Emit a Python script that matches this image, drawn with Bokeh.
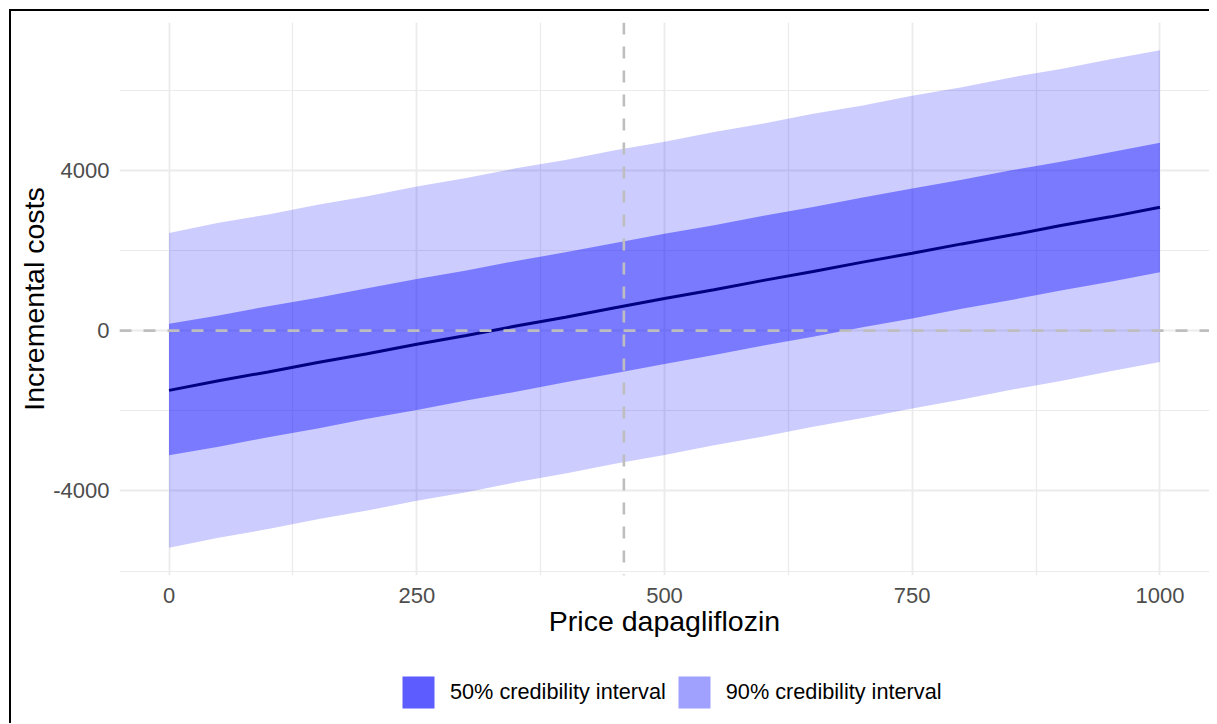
from bokeh.plotting import figure
from bokeh.layouts import column
from bokeh.models import Range1d, FixedTicker, Span, Legend, LegendItem
from bokeh.embed import file_html
from bokeh.resources import INLINE

# ---- data ----
price = [0, 50, 100, 150, 200, 250, 300, 350, 400, 450, 500,
         550, 600, 650, 700, 750, 800, 850, 900, 950, 1000]
median = [-1490, -1250, -1030, -795, -575, -340, -120, 115, 335, 570, 800,
          1020, 1255, 1475, 1710, 1930, 2165, 2385, 2625, 2840, 3080]
hi50 = [170, 380, 610, 820, 1060, 1290, 1500, 1740, 1955, 2190, 2420,
        2630, 2870, 3085, 3320, 3550, 3765, 4000, 4215, 4450, 4690]
lo50 = [-3110, -2895, -2660, -2440, -2200, -1980, -1745, -1525, -1285, -1065, -830,
        -610, -370, -150, 85, 305, 545, 765, 1000, 1220, 1460]
hi90 = [2440, 2690, 2900, 3140, 3355, 3595, 3810, 4050, 4260, 4500, 4715,
        4955, 5170, 5410, 5620, 5860, 6075, 6320, 6530, 6770, 7000]
lo90 = [-5420, -5170, -4950, -4705, -4490, -4245, -4030, -3785, -3565, -3320, -3105,
        -2860, -2640, -2400, -2180, -1940, -1720, -1475, -1255, -1015, -780]
ref_price = 459
ref_cost = 0
x_ticks = [0, 250, 500, 750, 1000]
x_minor = [125, 375, 625, 875]
y_ticks = [-4000, 0, 4000]
y_minor = [-6000, -2000, 2000, 6000]
legend_labels = ["50% credibility interval", "90% credibility interval"]
legend_colors = ["#5C5CFF", "#A0A0FF"]

FONT = "Liberation Sans"

p = figure(width=1198, height=640, output_backend="svg", toolbar_location=None,
           x_range=Range1d(-50, 1050), y_range=Range1d(-6110, 7690),
           min_border_left=108, min_border_right=0, min_border_top=11,
           min_border_bottom=76)
p.outline_line_color = None
p.background_fill_color = "white"
p.border_fill_color = "white"

# bands and median
p.varea(x=price, y1=lo90, y2=hi90, fill_color="blue", fill_alpha=0.2)
p.varea(x=price, y1=lo50, y2=hi50, fill_color="blue", fill_alpha=0.4)
p.line(price, median, line_color="#000080", line_width=3)

# reference lines
p.add_layout(Span(location=ref_cost, dimension="width", line_color="#BEBEBE",
                  line_width=2.6, line_dash="12 12"))
p.add_layout(Span(location=ref_price, dimension="height", line_color="#BEBEBE",
                  line_width=2.6, line_dash="12 12"))

# axes / grids
xt = FixedTicker(ticks=x_ticks, minor_ticks=x_minor)
yt = FixedTicker(ticks=y_ticks, minor_ticks=y_minor)
p.xaxis.ticker = xt
p.yaxis.ticker = yt
p.xgrid.ticker = xt
p.ygrid.ticker = yt
for g in (p.xgrid, p.ygrid):
    g.grid_line_color = "#EBEBEB"
    g.grid_line_width = 1.8
    g.minor_grid_line_color = "#EBEBEB"
    g.minor_grid_line_width = 1.2

for ax in (p.xaxis, p.yaxis):
    ax.axis_line_color = None
    ax.major_tick_line_color = None
    ax.minor_tick_line_color = None
    ax.major_tick_out = 0
    ax.major_tick_in = 0
    ax.minor_tick_out = 0
    ax.minor_tick_in = 0
    ax.major_label_text_font = FONT
    ax.major_label_text_font_size = "22px"
    ax.major_label_text_color = "#4D4D4D"
    ax.axis_label_text_font = FONT
    ax.axis_label_text_font_size = "28.5px"
    ax.axis_label_text_font_style = "normal"
    ax.axis_label_text_color = "black"

p.xaxis.major_label_standoff = 12
p.yaxis.major_label_standoff = 10
p.xaxis.major_label_overrides = {t: str(t) for t in x_ticks}
p.yaxis.major_label_overrides = {t: str(t) for t in y_ticks}
p.xaxis.axis_label = "Price dapagliflozin"
p.xaxis.axis_label_standoff = -1
p.yaxis.axis_label = "Incremental costs"
p.yaxis.axis_label_standoff = 0

# legend strip below the chart (key colours as in the reference legend);
# the key renderers draw the interval data far outside this strip's range,
# so only their legend swatches are visible
pl = figure(width=1198, height=72, output_backend="svg", toolbar_location=None,
            x_range=Range1d(0, 1), y_range=Range1d(1e6, 1e6 + 1),
            x_axis_location=None, y_axis_location=None, min_border=0)
pl.grid.visible = False
pl.outline_line_color = None
pl.background_fill_color = "white"
pl.border_fill_color = "white"
r1 = pl.varea(x=price, y1=lo50, y2=hi50, fill_color=legend_colors[0])
r2 = pl.varea(x=price, y1=lo90, y2=hi90, fill_color=legend_colors[1])
legend = Legend(items=[LegendItem(label=legend_labels[0], renderers=[r1]),
                       LegendItem(label=legend_labels[1], renderers=[r2])],
                orientation="horizontal", location=(279, 11),
                glyph_width=40, glyph_height=40, label_standoff=12, spacing=8,
                padding=0, margin=0, border_line_color=None,
                background_fill_alpha=0,
                label_text_font=FONT, label_text_font_size="21.7px",
                label_text_color="black")
pl.add_layout(legend)

page = column(p, pl, styles={"margin-left": "9px", "margin-top": "9px",
                             "border-left": "2px solid black",
                             "border-top": "2px solid black"})

open("out.html", "w").write(file_html(page, INLINE))
